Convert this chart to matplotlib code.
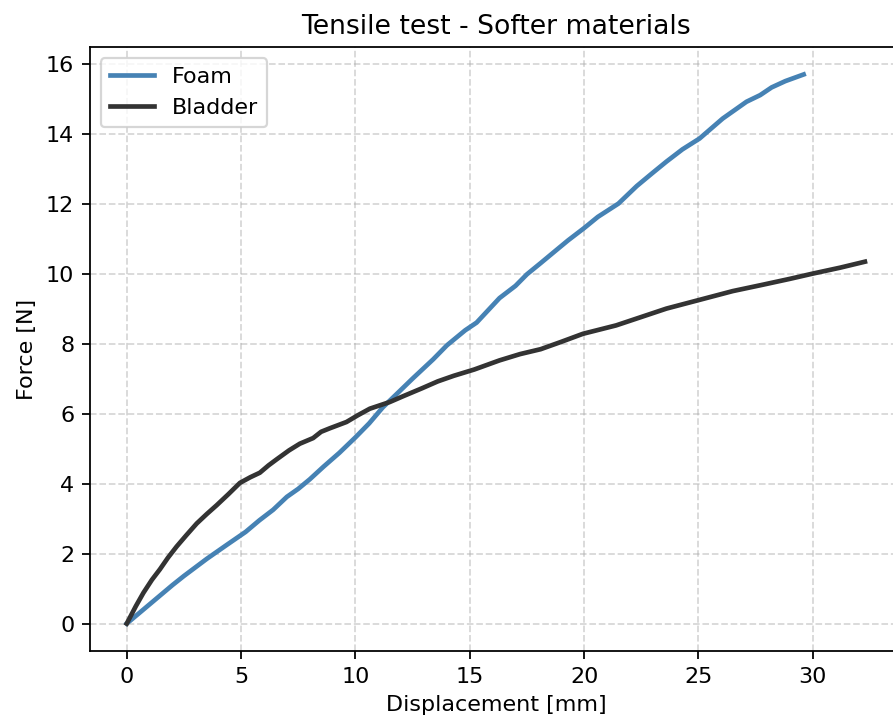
import matplotlib
matplotlib.use("Agg")
import matplotlib.pyplot as plt

# Foam curve (displacement mm, force N)
foam_x = [0, 1.0, 2.0, 2.5, 3.5, 4.4, 5.2, 5.8, 6.4, 7.0, 7.5, 8.0, 8.6, 9.3,
          10.0, 10.6, 11.2, 11.9, 12.5, 13.4, 14.0, 14.8, 15.3, 15.8, 16.3,
          17.0, 17.5, 18.1, 18.8, 19.3, 20.0, 20.6, 21.5, 22.3, 23.0, 23.6,
          24.3, 25.05, 26.06, 27.1, 27.7, 28.2, 28.8, 29.6]
foam_y = [0, 0.55, 1.1, 1.36, 1.85, 2.26, 2.62, 2.95, 3.25, 3.62, 3.85, 4.12,
          4.48, 4.88, 5.32, 5.72, 6.18, 6.62, 7.0, 7.55, 7.95, 8.38, 8.6, 8.95,
          9.3, 9.65, 9.98, 10.3, 10.68, 10.95, 11.3, 11.62, 12.0, 12.5, 12.88,
          13.2, 13.55, 13.86, 14.43, 14.91, 15.1, 15.32, 15.5, 15.69]

# Bladder curve
bladder_x = [0, 0.4, 0.73, 1.1, 1.45, 1.8, 2.18, 2.6, 3.06, 3.5, 3.93, 4.45,
             4.95, 5.4, 5.82, 6.2, 6.55, 7.1, 7.57, 8.15, 8.5, 8.88, 9.61,
             10.1, 10.63, 11.5, 12.1, 12.9, 13.6, 14.3, 15.2, 16.3, 17.2,
             18.1, 19.0, 19.95, 21.4, 22.5, 23.6, 25.05, 26.5, 27.8, 29.0,
             30.0, 31.2, 32.28]
bladder_y = [0, 0.5, 0.88, 1.25, 1.55, 1.88, 2.2, 2.52, 2.86, 3.13, 3.38, 3.7,
             4.02, 4.18, 4.31, 4.52, 4.69, 4.95, 5.14, 5.3, 5.48, 5.58, 5.76,
             5.95, 6.14, 6.33, 6.5, 6.72, 6.92, 7.08, 7.26, 7.52, 7.7, 7.84,
             8.05, 8.28, 8.52, 8.76, 9.0, 9.25, 9.5, 9.68, 9.85, 10.0, 10.17,
             10.34]

fig = plt.figure(figsize=(893 / 160, 722 / 160), dpi=160)
# the original image is cropped on the right, so the axes run past the edge
ax = fig.add_axes([0.1006, 0.0983, 0.9093, 0.8366])

ax.plot(foam_x, foam_y, color='steelblue', linewidth=2.1, label='Foam')
ax.plot(bladder_x, bladder_y, color='#333333', linewidth=2.1, label='Bladder')

ax.set_title("Tensile test - Softer materials")
ax.set_xlabel("Displacement [mm]")
ax.set_ylabel("Force [N]")
ax.grid(True, linestyle='--', alpha=0.5)
ax.legend(loc='upper left')

fig.savefig("out.png", dpi=160)
